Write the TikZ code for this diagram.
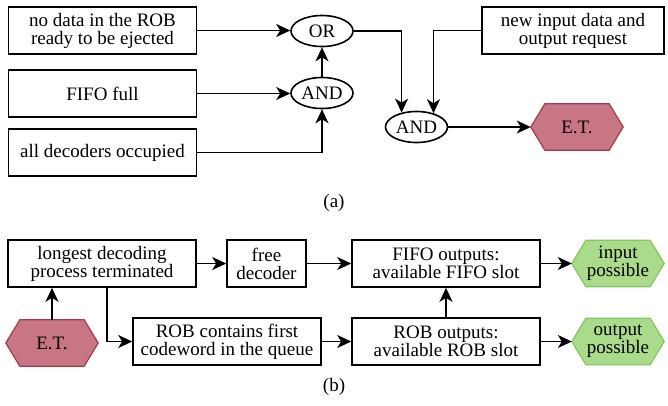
\documentclass[tikz,border=0pt]{standalone}
\usepackage{fontspec}
\setmainfont{Liberation Serif}
\usetikzlibrary{arrows.meta,shapes.geometric,backgrounds}
\definecolor{etfill}{HTML}{C87683}
\definecolor{etdraw}{HTML}{A33A50}
\definecolor{gfill}{HTML}{A9DB8A}
\definecolor{gdraw}{HTML}{86C466}
\begin{document}
\begin{tikzpicture}[x=1pt,y=-1pt, font=\fontsize{19}{18}\selectfont,
  box/.style={draw, line width=1.6pt, rectangle, minimum height=47pt, inner sep=0pt, align=center},
  gate/.style={draw, ellipse, line width=1.6pt, minimum width=62pt, minimum height=31pt, inner sep=0pt},
  hexa/.style={minimum width=92pt, minimum height=46pt, inner sep=0pt, align=center},
  arr/.style={line width=1.6pt, -{Stealth[length=14pt,width=13pt,inset=4pt]}},
  lbl/.style={inner sep=0pt}
]
\useasboundingbox (0,0) rectangle (668,405);
% (a)
\node[box, minimum width=188pt] (noda) at (102.5,30.5) {no data in the ROB\\ready to be ejected};
\node[box, minimum width=188pt] (fifo) at (102.5,93.5) {FIFO full};
\node[box, minimum width=188pt] (alld) at (102.5,152.5) {all decoders occupied};
\node[gate] (or) at (322,31) {OR};
\node[gate] (and1) at (322,93) {AND};
\node[box, minimum width=182pt] (newin) at (573,30.5) {new input data and\\output request};
\node[gate] (and2) at (416.5,127) {AND};
\node[hexa] (et1) at (577,127) {E.T.};
\node[lbl] (la) at (334,203) {(a)};
% (b)
\node[box, minimum width=188pt] (long) at (102,263.5) {longest decoding\\process terminated};
\node[box, minimum width=79pt] (free) at (266.5,263.5) {free\\decoder};
\node[box, minimum width=188pt] (fout) at (446,263.5) {FIFO outputs:\\available FIFO slot};
\node[hexa] (inp) at (618,263.5) {input\\possible};
\node[hexa] (et2) at (52,343) {E.T.};
\node[box, minimum width=188pt] (robc) at (227,341.5) {ROB contains first\\codeword in the queue};
\node[box, minimum width=188pt] (robo) at (446,341.5) {ROB outputs:\\available ROB slot};
\node[hexa] (outp) at (618,341.5) {output\\possible};
\node[lbl] (lb) at (334,387) {(b)};
\begin{scope}[on background layer]
\foreach \n/\f/\d in {et1/etfill/etdraw, et2/etfill/etdraw, inp/gfill/gdraw, outp/gfill/gdraw}
  \draw[fill=\f, draw=\d, line width=1.2pt] (\n.west) -- ([xshift=14pt]\n.north west) -- ([xshift=-14pt]\n.north east) -- (\n.east) -- ([xshift=-14pt]\n.south east) -- ([xshift=14pt]\n.south west) -- cycle;
\end{scope}
% connectors (a)
\draw[arr] (noda.east) -- (noda.east -| or.west);
\draw[arr] (fifo.east) -- (fifo.east -| and1.west);
\draw[arr] (alld.east) -| (and1.south);
\draw[arr] (and1.north) -- (or.south);
\draw[arr] (or.east) -| (and2.136);
\draw[arr] (newin.west) -| (and2.39);
\draw[arr] (and2.east) -- (et1.west);
% connectors (b)
\draw[arr] (et2.north) -- (et2.north |- long.south);
\draw[arr] ([xshift=5pt]long.south) |- (robc.west);
\draw[arr] (long.east) -- (free.west);
\draw[arr] (free.east) -- (fout.west);
\draw[arr] (robc.east) -- (robo.west);
\draw[arr] (robo.north) -- (fout.south);
\draw[arr] (fout.east) -- (inp.west);
\draw[arr] (robo.east) -- (outp.west);
\end{tikzpicture}
\end{document}
